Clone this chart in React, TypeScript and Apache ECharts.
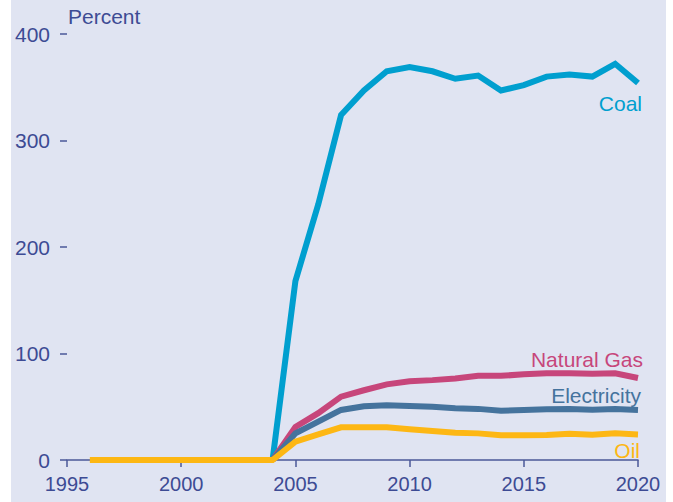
import React, { useEffect, useRef } from "react";
import * as echarts from "echarts";

const years = [1996, 1997, 1998, 1999, 2000, 2001, 2002, 2003, 2004, 2005, 2006, 2007, 2008, 2009, 2010, 2011, 2012, 2013, 2014, 2015, 2016, 2017, 2018, 2019, 2020];
const lateYears = [2004, 2005, 2006, 2007, 2008, 2009, 2010, 2011, 2012, 2013, 2014, 2015, 2016, 2017, 2018, 2019, 2020];

const coal = [0, 168, 240, 324, 347, 365, 369, 365, 358, 361, 347, 352, 360, 362, 360, 372, 354];
const naturalGas = [0, 31, 44, 59.5, 65.5, 71, 74, 75, 76.5, 79, 79, 80.5, 81.5, 81.5, 81, 81.5, 77];
const electricity = [0, 25, 36, 47, 50.5, 51.3, 50.7, 50, 48.5, 48, 46.3, 47, 47.6, 48, 47.3, 48, 47];
const oil = [0, 0, 0, 0, 0, 0, 0, 0, 0, 17.2, 24, 30.7, 30.7, 30.7, 28.8, 27.2, 25.7, 25, 23.2, 23.2, 23.5, 24.7, 23.8, 25, 24];

const yTicks = [0, 100, 200, 300, 400];
const xTicks = [1995, 2000, 2005, 2010, 2015, 2020];

const seriesNames = ["Coal", "Natural Gas", "Electricity", "Oil"];
const colors = ["#009fcf", "#c7467b", "#45739d", "#fdb714"];

export default function App() {
  const ref = useRef<HTMLDivElement>(null);
  useEffect(() => {
    document.body.style.margin = "0";
    if (!ref.current) return;
    const chart = echarts.init(ref.current, undefined, { renderer: "svg" });
    const axisColor = "#4b5898";
    const labelColor = "#3d4b94";
    const font = "'Liberation Sans', Arial, sans-serif";
    const pair = (xs: number[], ys: number[]) => xs.map((x, i) => [x, ys[i]]);
    const dataSets = [pair(lateYears, coal), pair(lateYears, naturalGas), pair(lateYears, electricity), pair(years, oil)];
    chart.setOption({
      animation: false,
      backgroundColor: "#e0e4f2",
      grid: { left: 56, right: 28, top: 34, bottom: 42 },
      xAxis: {
        type: "value",
        min: xTicks[0],
        max: xTicks[xTicks.length - 1],
        interval: 5,
        axisLine: { show: true, lineStyle: { color: axisColor, width: 1.5 } },
        axisTick: { show: true, length: 7, lineStyle: { color: axisColor, width: 1.5 } },
        axisLabel: { color: labelColor, fontSize: 20, fontFamily: font, margin: 14, formatter: (v: number) => String(v) },
        splitLine: { show: false },
      },
      yAxis: {
        type: "value",
        min: yTicks[0],
        max: yTicks[yTicks.length - 1],
        interval: 100,
        axisLine: { show: false },
        axisTick: { show: true, length: 7, lineStyle: { color: axisColor, width: 1.5 } },
        axisLabel: { color: labelColor, fontSize: 21, fontFamily: font, margin: 17 },
        splitLine: { show: false },
      },
      series: dataSets.map((d, i) => ({
        name: seriesNames[i],
        type: "line",
        data: d,
        showSymbol: false,
        symbol: "none",
        lineStyle: { color: colors[i], width: 6, join: "miter" },
        z: 2 + i,
      })),
      graphic: [
        { type: "text", left: 57, top: 6, style: { text: "Percent", fill: labelColor, font: `21px ${font}` } },
        { type: "text", x: 631, y: 103, style: { text: "Coal", fill: colors[0], font: `21px ${font}`, align: "right", verticalAlign: "middle" } },
        { type: "text", x: 632, y: 359, style: { text: "Natural Gas", fill: colors[1], font: `21px ${font}`, align: "right", verticalAlign: "middle" } },
        { type: "text", x: 630, y: 395, style: { text: "Electricity", fill: colors[2], font: `21px ${font}`, align: "right", verticalAlign: "middle" } },
        { type: "text", x: 629, y: 450, style: { text: "Oil", fill: colors[3], font: `21px ${font}`, align: "right", verticalAlign: "middle" } },
      ],
    });
    return () => chart.dispose();
  }, []);
  return (
    <div style={{ position: "relative", width: 673, height: 502, background: "#ffffff" }}>
      <div ref={ref} style={{ position: "absolute", left: 11, top: 0, width: 655, height: 502 }} />
    </div>
  );
}
